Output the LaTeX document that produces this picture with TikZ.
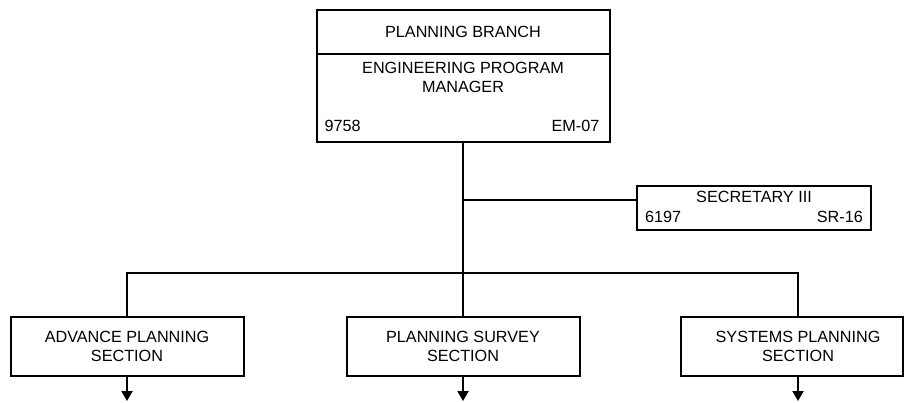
\documentclass[tikz,border=0pt]{standalone}
\usepackage{fontspec}
\setmainfont{Liberation Sans}
\usetikzlibrary{arrows.meta, positioning}
\newcommand{\orgfont}{\fontsize{16.2}{18.5}\selectfont}
\tikzset{
  orgbox/.style={draw, line width=2pt, inner sep=0pt, outer sep=0pt, align=center, font=\orgfont},
  orgtext/.style={inner sep=0pt, align=center, font=\orgfont},
  orgline/.style={line width=2pt},
  orgarrow/.style={line width=2pt, -{Triangle[length=10pt, width=11pt]}}
}

\begin{document}
\begin{tikzpicture}[x=1pt, y=-1pt]
\useasboundingbox (0,0) rectangle (904,402);

% branch head
\node[orgbox, minimum width=293pt, minimum height=44pt] (branch) at (463,32) {PLANNING BRANCH};
\node[orgbox, minimum width=293pt, minimum height=88pt, below=0pt of branch] (epm) {};
\node[orgtext] (epmtitle) at ([yshift=-23.5pt]epm.north) {ENGINEERING PROGRAM\\MANAGER};
\node[orgtext, anchor=west] (epmnum) at ([xshift=8pt, yshift=16pt]epm.south west) {9758};
\node[orgtext, anchor=east] (epmgrade) at ([xshift=-10pt, yshift=16pt]epm.south east) {EM-07};

% secretary
\node[orgbox, minimum width=234pt, minimum height=44pt] (sec) at (754,208) {};
\node[orgtext] (sectitle) at ([yshift=-11pt]sec.north) {SECRETARY III};
\node[orgtext, anchor=west] (secnum) at ([xshift=8pt, yshift=13pt]sec.south west) {6197};
\node[orgtext, anchor=east] (secgrade) at ([xshift=-8pt, yshift=13pt]sec.south east) {SR-16};

% sections
\node[orgbox, minimum width=233pt, minimum height=59pt] (adv) at (127,346.5) {ADVANCE PLANNING\\SECTION};
\node[orgbox, minimum width=233pt, minimum height=59pt] (survey) at (463,346.5) {PLANNING SURVEY\\SECTION};
\node[orgbox, minimum width=222pt, minimum height=59pt] (sys) at (792,346.5) {\hspace*{12pt}SYSTEMS PLANNING\\\hspace*{12pt}SECTION};

% connectors
\coordinate (bus) at (463,273);
\coordinate (secin) at ([yshift=8pt]sec.west);
\coordinate (sysdrop) at ([xshift=6pt]sys.north);
\draw[orgline] (epm.south) -- (bus) -- (survey.north);
\draw[orgline] (secin) -- (epm.south |- secin);
\draw[orgline] (adv.north) -- (adv.north |- bus) -- (sysdrop |- bus) -- (sysdrop);

% downward arrows
\coordinate (advend) at (127,401);
\coordinate (surveyend) at (463,401);
\coordinate (sysend) at ([xshift=6pt]sys.south |- advend);
\draw[orgarrow] (adv.south) -- (advend);
\draw[orgarrow] (survey.south) -- (surveyend);
\draw[orgarrow] ([xshift=6pt]sys.south) -- (sysend);
\end{tikzpicture}
\end{document}
